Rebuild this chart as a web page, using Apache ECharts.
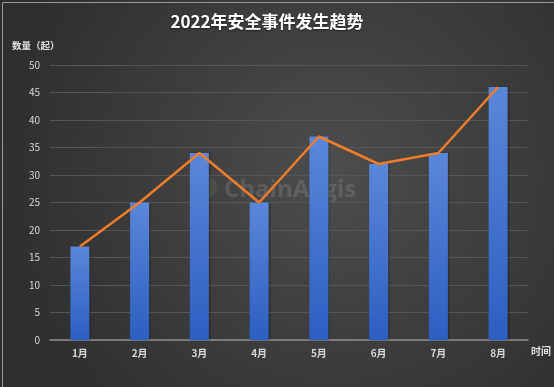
<!DOCTYPE html>
<html><head><meta charset="utf-8">
<script src="https://cdn.jsdelivr.net/npm/echarts@6/dist/echarts.min.js"></script>
<style>html,body{margin:0;padding:0;background:#3a3a3a}#c{width:554px;height:387px}</style>
</head><body><div id="c"></div>
<script>
var categories = ['1月','2月','3月','4月','5月','6月','7月','8月'];
var barValues = [17, 25, 34, 25, 37, 32, 34, 46];
var lineValues = [17, 25, 34, 25, 37, 32, 34, 46];
var titleText = '2022年安全事件发生趋势';
var yName = '数量（起）';
var xName = '时间';

var chart = echarts.init(document.getElementById('c'), null, {renderer:'canvas'});
var font = '"Noto Sans CJK SC", "Noto Sans", sans-serif';
chart.setOption({
  backgroundColor: {
    type:'radial', x:0.6, y:0.45, r:0.85,
    colorStops:[{offset:0,color:'#4d4d4d'},{offset:1,color:'#2f2f2f'}]
  },
  animation:false,
  title:{text:titleText, left:262, top:8, textAlign:'center',
    textStyle:{color:'#ffffff', fontSize:17, fontWeight:'bold', fontFamily:font,
      textShadowColor:'rgba(0,0,0,0.5)', textShadowBlur:2, textShadowOffsetY:1}},
  graphic:[
    {type:'rect', left:0, top:0, shape:{width:553, height:386}, style:{fill:'none', stroke:'#9a9a9a', lineWidth:1}, silent:true},
    {type:'text', left:12, top:41, style:{text:yName, fill:'#e0e0e0', font:'bold 9.5px '+font}, silent:true},
    {type:'text', left:224, top:178, z:0, style:{text:'ChainAegis', fill:'rgba(255,255,255,0.12)', font:'bold 24px "Open Sans", sans-serif'}, silent:true},
    {type:'circle', left:195, top:176, z:0, shape:{r:11}, style:{fill:'rgba(120,160,120,0.16)'}, silent:true}
  ],
  grid:{left:50, right:24, top:65, bottom:47, containLabel:false},
  xAxis:{type:'category', data:categories,
    name:xName, nameLocation:'end', nameGap:3,
    nameTextStyle:{color:'#e0e0e0', fontSize:10, fontWeight:'bold', fontFamily:font, verticalAlign:'top', padding:[6,0,0,0]},
    axisLine:{lineStyle:{color:'#8c8c8c', width:1.5}},
    axisTick:{show:false},
    axisLabel:{color:'#d8d8d8', fontSize:10, fontFamily:font, margin:8, fontWeight:'bold'}},
  yAxis:{type:'value', min:0, max:50, interval:5,
    axisLine:{show:false}, axisTick:{show:false},
    splitLine:{lineStyle:{color:'#565656', width:1}},
    axisLabel:{color:'#d8d8d8', fontSize:10, fontFamily:font, margin:10}},
  series:[
    {type:'bar', data:barValues, barWidth:19, z:2,
      itemStyle:{color:{type:'linear',x:0,y:0,x2:0,y2:1,
        colorStops:[{offset:0,color:'#5b87d9'},{offset:1,color:'#2c5fc2'}]},
        shadowColor:'rgba(0,0,0,0.35)', shadowBlur:2, shadowOffsetX:1}},
    {type:'line', data:lineValues, z:3, symbol:'none',
      lineStyle:{color:'#f07c2a', width:2.5}}
  ]
});
</script></body></html>
